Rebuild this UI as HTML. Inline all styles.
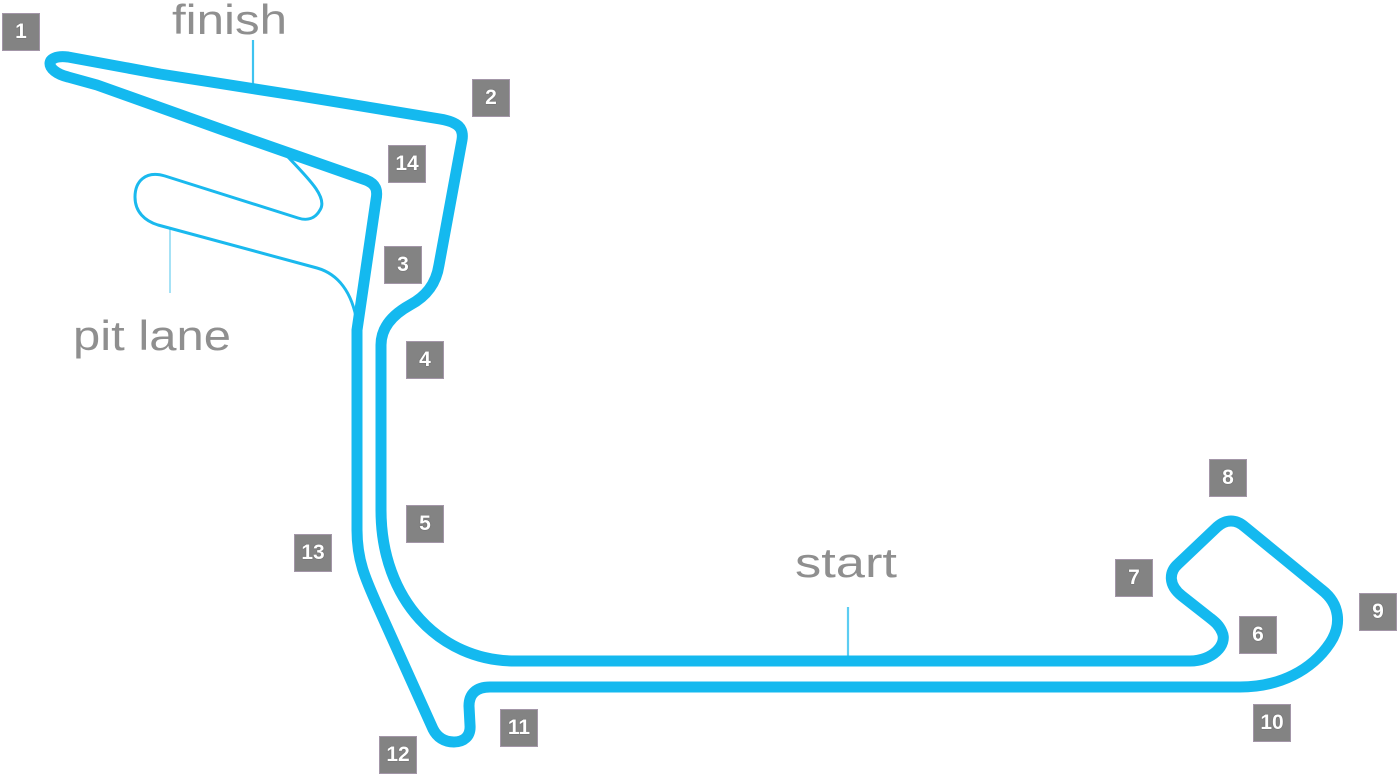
<!DOCTYPE html>
<html>
<head>
<meta charset="utf-8">
<style>
  html, body { margin:0; padding:0; background:#ffffff; }
  body { width:1397px; height:776px; overflow:hidden; position:relative; }
  svg { position:absolute; left:0; top:0; }
  .lbl { position:absolute; width:36px; height:36px; background:#838383; border:1px solid #a396a8;
         color:#ffffff; font-family:"Liberation Sans", sans-serif; font-weight:bold; font-size:21px;
         line-height:36px; text-align:center; text-shadow:0 0 1px #444; box-sizing:content-box; }
</style>
</head>
<body>
<svg width="1397" height="776" viewBox="0 0 1397 776" xmlns="http://www.w3.org/2000/svg">
  <!-- leader lines -->
  <line x1="253" y1="40" x2="253" y2="88" stroke="#3ec3f0" stroke-width="2.2"/>
  <line x1="848" y1="607" x2="848" y2="661" stroke="#5ccdf2" stroke-width="2.2"/>
  <line x1="170" y1="228" x2="170" y2="293" stroke="#a6e2f6" stroke-width="2"/>

  <!-- pit lane -->
  <path d="M 288 157 C 310 180 328 198 320 210 C 315 219 307 221 298 218 L 165 176 C 145 170 135 182 135 197 C 135 212 145 221 158 225 L 317 268 C 338 274 352 292 357 322"
        fill="none" stroke="#1ab9ee" stroke-width="3" stroke-linecap="round" stroke-linejoin="round"/>

  <!-- main track -->
  <path d="M 515 661 L 1190 661 C 1212 661 1228 645 1222 632 C 1219 625 1215 622 1210 618 L 1182 596 C 1168 585 1169 572 1178 564 L 1217 527 C 1226 519 1236 519 1245 527 L 1322 590 C 1340 604 1342 625 1330 643 C 1312 670 1280 687 1240 687 L 490 687 C 476 687 469 694 469 706 L 470 725 C 471 737 463 742 454 742 C 444 742 437 737 433 729 L 378 607 C 365 578 357 560 357 530 L 357 330 L 376 200 C 378 190 376 184 366 180 L 223 130 L 97 85 L 68 77 C 44 71 44 54 68 57 L 160 74 L 300 96 L 440 119 C 458 122 464 128 462 140 L 439 265 C 436 285 425 297 410 305 C 392 315 381 328 381 345 L 381 510 C 381 600 440 661 515 661 Z"
        fill="none" stroke="#14b9ef" stroke-width="11" stroke-linejoin="round" stroke-linecap="round"/>

  <!-- text labels -->
  <text x="172" y="34" font-family="Liberation Sans, sans-serif" font-size="42" fill="#8f8f8f" textLength="115" lengthAdjust="spacingAndGlyphs">finish</text>
  <text x="795" y="577" font-family="Liberation Sans, sans-serif" font-size="42" fill="#8f8f8f" textLength="102" lengthAdjust="spacingAndGlyphs">start</text>
  <text x="73" y="350" font-family="Liberation Sans, sans-serif" font-size="42" fill="#8f8f8f" textLength="158" lengthAdjust="spacingAndGlyphs">pit lane</text>
</svg>

<div class="lbl" style="left:2px;top:13px;">1</div>
<div class="lbl" style="left:472px;top:79px;">2</div>
<div class="lbl" style="left:384px;top:246px;">3</div>
<div class="lbl" style="left:406px;top:341px;">4</div>
<div class="lbl" style="left:406px;top:505px;">5</div>
<div class="lbl" style="left:1239px;top:616px;">6</div>
<div class="lbl" style="left:1115px;top:559px;">7</div>
<div class="lbl" style="left:1209px;top:459px;">8</div>
<div class="lbl" style="left:1359px;top:593px;">9</div>
<div class="lbl" style="left:1253px;top:704px;">10</div>
<div class="lbl" style="left:500px;top:709px;">11</div>
<div class="lbl" style="left:379px;top:736px;">12</div>
<div class="lbl" style="left:294px;top:534px;">13</div>
<div class="lbl" style="left:388px;top:145px;">14</div>
</body>
</html>
